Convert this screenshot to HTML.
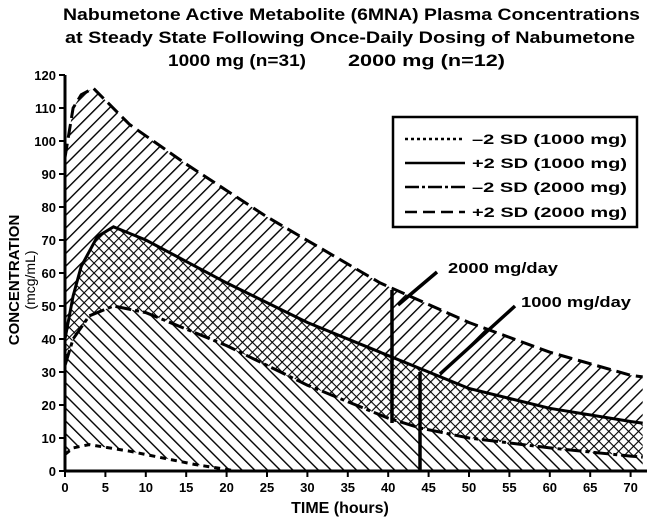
<!DOCTYPE html>
<html><head><meta charset="utf-8"><style>
body{margin:0;background:#fff}
svg{display:block;font-family:"Liberation Sans",Arial,sans-serif;font-weight:bold}
</style></head><body>
<svg id="s" width="647" height="519" viewBox="0 0 647 519" xmlns="http://www.w3.org/2000/svg">
<defs>
<pattern id="fw" width="9" height="9" patternUnits="userSpaceOnUse" patternTransform="rotate(45)"><line x1="0" y1="0" x2="0" y2="9" stroke="#000" stroke-width="2.8"/></pattern>
<pattern id="bw" width="9" height="9" patternUnits="userSpaceOnUse" patternTransform="rotate(-45)"><line x1="0" y1="0" x2="0" y2="9" stroke="#000" stroke-width="2.8"/></pattern>
<pattern id="cx" width="7" height="7" patternUnits="userSpaceOnUse" patternTransform="rotate(45)"><line x1="0" y1="0" x2="0" y2="7" stroke="#000" stroke-width="2.2"/><line x1="0" y1="0" x2="7" y2="0" stroke="#000" stroke-width="2.2"/></pattern>
</defs>
<g font-size="17">
<text x="63" y="20" textLength="577" lengthAdjust="spacingAndGlyphs">Nabumetone Active Metabolite (6MNA) Plasma Concentrations</text>
<text x="65" y="43" textLength="570" lengthAdjust="spacingAndGlyphs">at Steady State Following Once-Daily Dosing of Nabumetone</text>
<text x="168" y="66" textLength="138" lengthAdjust="spacingAndGlyphs">1000 mg (n=31)</text>
<text x="348" y="66" textLength="157" lengthAdjust="spacingAndGlyphs">2000 mg (n=12)</text>
</g>
<g id="plot"></g>
<g id="axes" font-size="13"></g>
<text x="340" y="513" text-anchor="middle" font-size="16">TIME (hours)</text>
<text transform="translate(19,280) rotate(-90)" text-anchor="middle" font-size="15">CONCENTRATION</text>
<text transform="translate(35,280) rotate(-90)" text-anchor="middle" font-size="14" font-weight="normal">(mcg/mL)</text>
<rect x="393" y="117" width="244" height="110" fill="#fff" stroke="#000" stroke-width="2.5"/>
<g font-size="14">
<line x1="405" y1="139" x2="465" y2="139" stroke="#000" stroke-width="2.5" stroke-dasharray="3,3"/><text x="472" y="144" textLength="155" lengthAdjust="spacingAndGlyphs">–2 SD (1000 mg)</text>
<line x1="405" y1="163" x2="465" y2="163" stroke="#000" stroke-width="2.5"/><text x="472" y="168" textLength="155" lengthAdjust="spacingAndGlyphs">+2 SD (1000 mg)</text>
<line x1="405" y1="187" x2="465" y2="187" stroke="#000" stroke-width="2.5" stroke-dasharray="14,3,3,3"/><text x="472" y="192" textLength="155" lengthAdjust="spacingAndGlyphs">–2 SD (2000 mg)</text>
<line x1="405" y1="212" x2="465" y2="212" stroke="#000" stroke-width="2.5" stroke-dasharray="12,6"/><text x="472" y="217" textLength="155" lengthAdjust="spacingAndGlyphs">+2 SD (2000 mg)</text>
<text x="448" y="273" font-size="15" textLength="110" lengthAdjust="spacingAndGlyphs">2000 mg/day</text>
<text x="521" y="307" font-size="15" textLength="110" lengthAdjust="spacingAndGlyphs">1000 mg/day</text>
</g>
<g stroke="#000" stroke-width="3.5">
<line x1="398" y1="305" x2="437" y2="272"/>
<line x1="392" y1="290" x2="392" y2="423"/>
<line x1="440" y1="374" x2="515" y2="306"/>
<line x1="420" y1="372" x2="420" y2="471"/>
</g>
</svg>
<script>
const X=t=>65+8.08*t, Y=c=>471-3.3*c;
const U=[[0,95],[1,110],[2,114],[3.5,116],[8,105],[15,93],[25,77],[39,57],[50,45],[60,36],[70,29],[71.5,28.5]];
const S=[[0,40],[1,53],[2,62],[4,71],[6,74],[10,70],[20,57],[30,45],[39,36],[50,25],[60,19],[70,15],[71.5,14.5]];
const D=[[0,32],[1,40],[3,47],[6,50],[10,48],[15,43],[20,38],[25,32],[30,26],[40,16],[44,13],[50,10],[60,7],[70,4.5],[71.5,4.2]];
const T=[[0,5],[1,7],[3,8],[8,6],[12,4],[16,2],[20,0.5],[21,0]];
const pts=a=>a.map(p=>X(p[0]).toFixed(1)+","+Y(p[1]).toFixed(1));
const rev=a=>a.slice().reverse();
const g=document.getElementById('plot');let h='';
const poly=(p,f)=>h+=`<polygon points="${p.join(' ')}" fill="${f}"/>`;
poly(pts(U).concat(pts(rev(S))),'url(#fw)');
poly(pts(S).concat(pts(rev(D))),'url(#cx)');
poly(pts(D).concat([X(71.5)+","+Y(0)]).concat(pts(rev(T))),'url(#bw)');
const line=(a,d)=>h+=`<polyline points="${pts(a).join(' ')}" fill="none" stroke="#000" stroke-width="3" ${d?'stroke-dasharray="'+d+'"':''}/>`;
line(U,'14,6');line(S);line(D,'16,4,4,4');line(T,'6,5');
g.innerHTML=h;
let a='<line x1="65" y1="75" x2="65" y2="472" stroke="#000" stroke-width="3"/><line x1="64" y1="471" x2="647" y2="471" stroke="#000" stroke-width="3"/>';
for(let c=0;c<=120;c+=10){a+=`<line x1="59" y1="${Y(c)}" x2="65" y2="${Y(c)}" stroke="#000" stroke-width="2"/><text x="56" y="${Y(c)+5}" text-anchor="end">${c}</text>`;}
for(let t=0;t<=70;t+=5){a+=`<line x1="${X(t)}" y1="471" x2="${X(t)}" y2="477" stroke="#000" stroke-width="2"/><text x="${X(t)}" y="492" text-anchor="middle">${t}</text>`;}
document.getElementById('axes').innerHTML=a;
</script>
</body></html>
